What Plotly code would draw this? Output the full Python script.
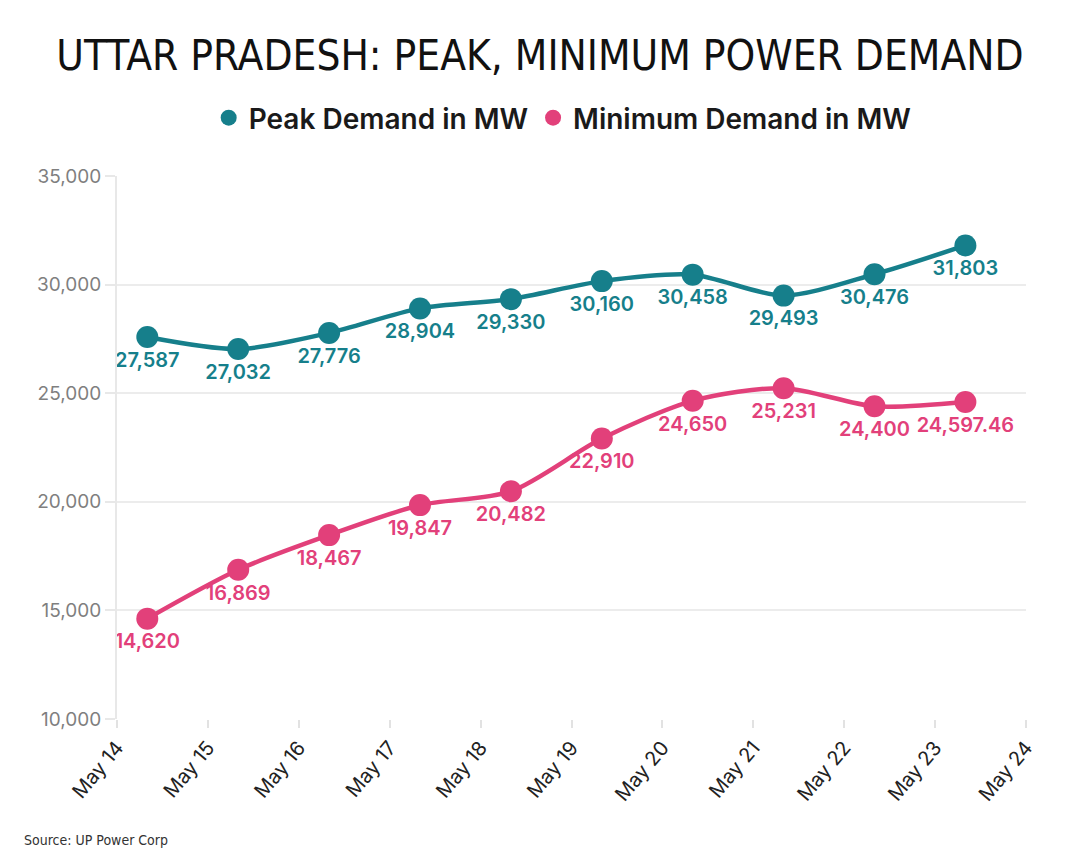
import plotly.graph_objects as go
import pandas as pd

# ---- data ----
dates = ["2024-05-14", "2024-05-15", "2024-05-16", "2024-05-17", "2024-05-18",
         "2024-05-19", "2024-05-20", "2024-05-21", "2024-05-22", "2024-05-23"]
peak_demand = [27587, 27032, 27776, 28904, 29330, 30160, 30458, 29493, 30476, 31803]
min_demand = [14620, 16869, 18467, 19847, 20482, 22910, 24650, 25231, 24400, 24597.46]
series_names = ["Peak Demand in MW", "Minimum Demand in MW"]
title_text = "UTTAR PRADESH: PEAK, MINIMUM POWER DEMAND"
source_text = "Source: UP Power Corp"

TEAL = "#167f8b"
PINK = "#e2407a"

x = pd.to_datetime(dates) + pd.Timedelta(hours=8)

W, H = 1080, 861
ML, MR, MT, MB = 117, 54, 176, 142
PW, PH = W - ML - MR, H - MT - MB


def fmt(v):
    if float(v).is_integer():
        return f"{int(v):,}"
    return f"{v:,.2f}"


fig = go.Figure()
for vals, name, col in [(peak_demand, series_names[0], TEAL), (min_demand, series_names[1], PINK)]:
    fig.add_trace(go.Scatter(
        x=x, y=vals, mode="lines+markers+text", name=name, showlegend=False,
        line=dict(color=col, width=4.5, shape="spline", smoothing=0.8),
        marker=dict(color=col, size=22),
        text=[fmt(v) for v in vals], textposition="bottom center",
        textfont=dict(family="Inter", size=20, color=col, weight=600),
        cliponaxis=False,
    ))
    fig.add_trace(go.Scatter(
        x=[None], y=[None], mode="markers", name=name, showlegend=True,
        marker=dict(color=col, size=20),
    ))

fig.update_layout(
    width=W, height=H,
    margin=dict(l=ML, r=MR, t=MT, b=MB),
    paper_bgcolor="white", plot_bgcolor="white",
    title=dict(text=title_text, x=0.5, xanchor="center", xref="container",
               y=1 - 55 / H, yanchor="middle", yref="container",
               font=dict(family="DejaVu Sans Condensed, Open Sans", size=42, color="#111")),
    legend=dict(orientation="h", xref="container", yref="container",
                x=0.521, xanchor="center", y=1 - 118 / H, yanchor="middle",
                font=dict(family="Inter", size=28, color="#1a1a1a", weight=600),
                itemwidth=30, itemsizing="trace", traceorder="normal"),
    xaxis=dict(
        type="date", range=["2024-05-14", "2024-05-24"],
        dtick=86400000, tick0="2024-05-14", tickformat="%b %d",
        tickangle=-50, tickfont=dict(family="Inter", size=20, color="#222"),
        showgrid=False, zeroline=False, showline=False,
        ticks="outside", ticklen=8, tickcolor="#e2e2e2", tickwidth=2,
    ),
    yaxis=dict(
        range=[10000, 35000], dtick=5000, tickformat=",",
        tickfont=dict(family="Inter", size=19, color="#7f7f7f"),
        showgrid=True, gridcolor="#ececec", gridwidth=2, zeroline=False,
        showline=True, linecolor="#e8e8e8", linewidth=2,
        ticks="outside", ticklen=10, tickcolor="#e8e8e8", tickwidth=2,
    ),
    annotations=[dict(
        text=source_text, xref="paper", yref="paper",
        x=(22 - ML) / PW, xanchor="left", y=(H - MB - 840) / PH, yanchor="middle",
        showarrow=False, font=dict(family="DejaVu Sans Condensed, Open Sans", size=14, color="#333"),
    )],
)

fig.write_html("out.html")
